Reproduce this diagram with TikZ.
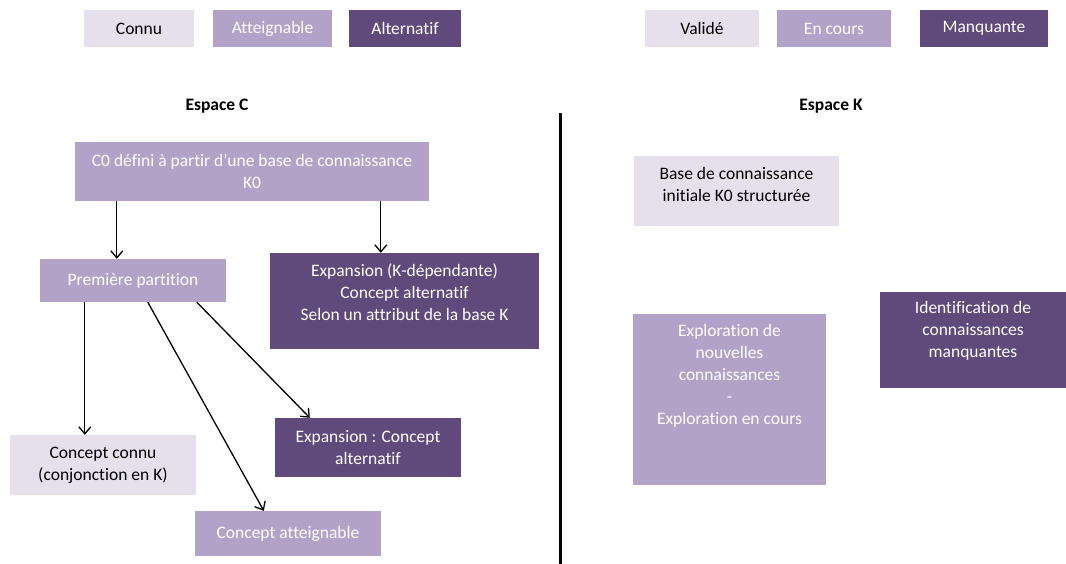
\documentclass[tikz,border=0pt]{standalone}
\usepackage{fontspec}
\setmainfont{Carlito}[Ligatures={NoCommon},RawFeature={-liga;-clig;-dlig}]
\usetikzlibrary{arrows.meta,calc}
\definecolor{clight}{HTML}{E6E0EC}
\definecolor{cmid}{HTML}{B3A2C7}
\definecolor{cdark}{HTML}{604A7B}
\begin{document}
\begin{tikzpicture}[x=1pt,y=-1pt,
  every node/.style={font=\fontsize{17.5}{22}\selectfont, inner sep=0pt, align=center},
  boxL/.style={fill=clight, text=black},
  boxM/.style={fill=cmid, text=white},
  boxD/.style={fill=cdark, text=white},
  sz/.style n args={2}{minimum width=#1, minimum height=#2},
  txt/.style={text=#1},
  arr/.style={line width=1.3pt, -{Straight Barb[length=7pt,width=12pt]}},
  title/.style={font=\fontsize{17.5}{22}\selectfont\bfseries}]
\useasboundingbox (0,0) rectangle (1066,564);
% legends
\node[boxL, sz={110}{37}] (lconnu) at (139,28.5) {Connu};
\node[boxM, sz={119}{37}] (latt) at (272.5,28.5) {Atteignable};
\node[boxD, sz={112}{37}] (lalt) at (405,28.5) {Alternatif};
\node[boxL, sz={114}{37}] (lval) at (702,28.5) {Validé};
\node[boxM, sz={114}{37}] (lcours) at (834,28.5) {En cours};
\node[boxD, sz={128}{37}] (lmanq) at (984,28.5) {Manquante};
% titles
\node[title] (tc) at (217,106) {Espace C};
\node[title] (tk) at (831,106) {Espace K};
% divider
\coordinate (dtop) at (560.5,113);
\coordinate (dbot) at (560.5,564);
\draw[line width=3pt] (dtop) -- (dbot);
% C space
\node[boxM, sz={354}{59}] (c0) at (252,171.5) {C0 défini à partir d’une base de connaissance\\K0};
\node[boxM, sz={186}{43}] (p1) at (133,280.5) {Première partition};
\node[boxD, sz={269}{96}] (e1) at (404.5,301) {};
\node[txt=white] (e1t) at ($(e1.center)+(0,-9)$) {Expansion (K-dépendante)\\Concept alternatif\\Selon un attribut de la base K};
\node[boxD, sz={186}{59}] (e2) at (368,447.5) {Expansion : Concept\\alternatif};
\node[boxL, sz={186}{60}] (cc) at (103,465) {Concept connu\\(conjonction en K)};
\node[boxM, sz={186}{45}] (ca) at (288,533.5) {Concept atteignable};
% K space
\node[boxL, sz={205}{70}] (kb) at (736.5,191) {};
\node[txt=black] (kbt) at ($(kb.center)+(0,-6.5)$) {Base de connaissance\\initiale K0 structurée};
\node[boxM, sz={193}{171}] (kx) at (729.5,399.5) {};
\node[txt=white] (kxt) at ($(kx.center)+(0,-24)$) {Exploration de\\nouvelles\\connaissances\\-\\Exploration en cours};
\node[boxD, sz={186}{96}] (ki) at (973,340) {};
\node[txt=white] (kit) at ($(ki.center)+(0,-9)$) {Identification de\\connaissances\\manquantes};
% arrows
\draw[arr] ([xshift=42]c0.south west) -- ([xshift=77]p1.north west);
\draw[arr] ([xshift=306]c0.south west) -- ([xshift=111]e1.north west);
\draw[arr] ([xshift=45]p1.south west) -- ([xshift=75]cc.north west);
\draw[arr] ([xshift=108]p1.south west) -- ([xshift=69]ca.north west);
\draw[arr] ([xshift=157]p1.south west) -- ([xshift=35]e2.north west);
\end{tikzpicture}
\end{document}
